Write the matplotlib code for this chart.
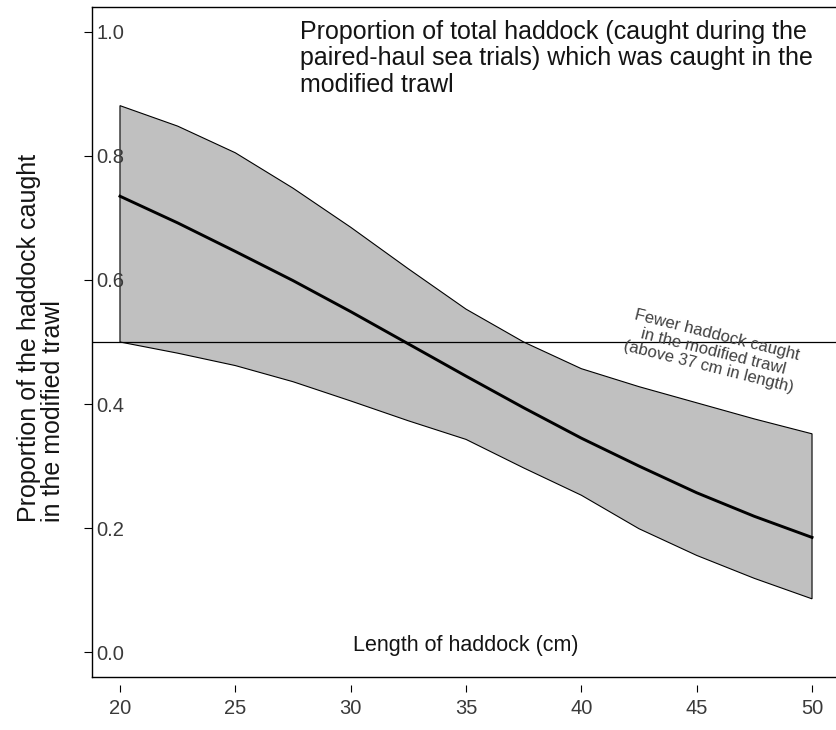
import numpy as np
import matplotlib
matplotlib.use("Agg")
import matplotlib.pyplot as plt

plt.rcParams['font.family'] = ['Liberation Sans', 'DejaVu Sans']

# haddock length (cm) and estimated proportion caught in the modified trawl
length = [20, 22.5, 25, 27.5, 30, 32.5, 35, 37.5, 40, 42.5, 45, 47.5, 50]
prop = [0.735, 0.692, 0.646, 0.599, 0.549, 0.497, 0.445, 0.394, 0.345, 0.300, 0.257, 0.219, 0.185]
upper = [0.881, 0.848, 0.805, 0.748, 0.685, 0.618, 0.553, 0.500, 0.457, 0.428, 0.402, 0.376, 0.352]
lower = [0.500, 0.482, 0.462, 0.436, 0.405, 0.373, 0.343, 0.297, 0.253, 0.199, 0.156, 0.119, 0.086]

xticks = [20, 25, 30, 35, 40, 45, 50]
yticks = [0.0, 0.2, 0.4, 0.6, 0.8, 1.0]

W, H = 836, 730
fig = plt.figure(figsize=(W / 100, H / 100), dpi=100)
# axes run slightly past the right edge, as in the cropped original
ax = fig.add_axes([92.3 / W, 53 / H, 747.4 / W, 670 / H])
ax.set_axisbelow(False)

x = np.array(length)
ax.fill(np.concatenate([x, x[::-1]]), np.concatenate([upper, lower[::-1]]),
        facecolor='#c0c0c0', edgecolor='black', linewidth=0.8, zorder=2)
ax.plot(x, prop, color='black', linewidth=2.1, zorder=3)
ax.axhline(0.5, color='black', linewidth=0.9, zorder=4)

ax.set_xlim(18.8, 51.2)
ax.set_ylim(-0.04, 1.04)

ax.set_xticks(xticks)
ax.set_xticklabels([str(v) for v in xticks])
ax.set_yticks(yticks)
ax.set_yticklabels(['%.1f' % v for v in yticks])

# box edges; x axis sits a little below the box like R's axis()
ax.spines['right'].set_visible(False)
ax.spines['bottom'].set_position(('outward', 6))
ax.spines['bottom'].set_visible(False)
ax.plot([0, 1], [0, 0], transform=ax.transAxes, color='black', linewidth=1.0, clip_on=False, zorder=5)
ax.spines['top'].set_linewidth(1.0)
ax.spines['left'].set_linewidth(1.0)

ax.tick_params(axis='x', direction='out', length=5, width=0.8, pad=5,
               labelsize=14.5, labelcolor='#3a3a3a')
ax.tick_params(axis='y', direction='out', length=6, width=0.8, pad=-9,
               labelsize=14.5, labelcolor='#3a3a3a')
for lab in ax.get_yticklabels():
    lab.set_horizontalalignment('left')

txt = '#141414'
fig.text(300 / W, 1 - 20 / H,
         'Proportion of total haddock (caught during the\n'
         'paired-haul sea trials) which was caught in the\n'
         'modified trawl',
         ha='left', va='top', fontsize=18, color=txt, linespacing=1.13)

fig.text(41 / W, 1 - 522 / H,
         'Proportion of the haddock caught\nin the modified trawl',
         rotation=90, ha='center', va='bottom', multialignment='left',
         fontsize=18, color=txt, linespacing=1.05)

ax.text(35, 0.01, 'Length of haddock (cm)', ha='center', va='center',
        fontsize=15.5, color=txt)

ax.text(45.7, 0.485, 'Fewer haddock caught\nin the modified trawl\n(above 37 cm in length)',
        rotation=-14, rotation_mode='anchor', ha='center', va='center',
        multialignment='center', fontsize=12, color='#404040', linespacing=1.1, zorder=6)

fig.savefig('out.png', dpi=100)
